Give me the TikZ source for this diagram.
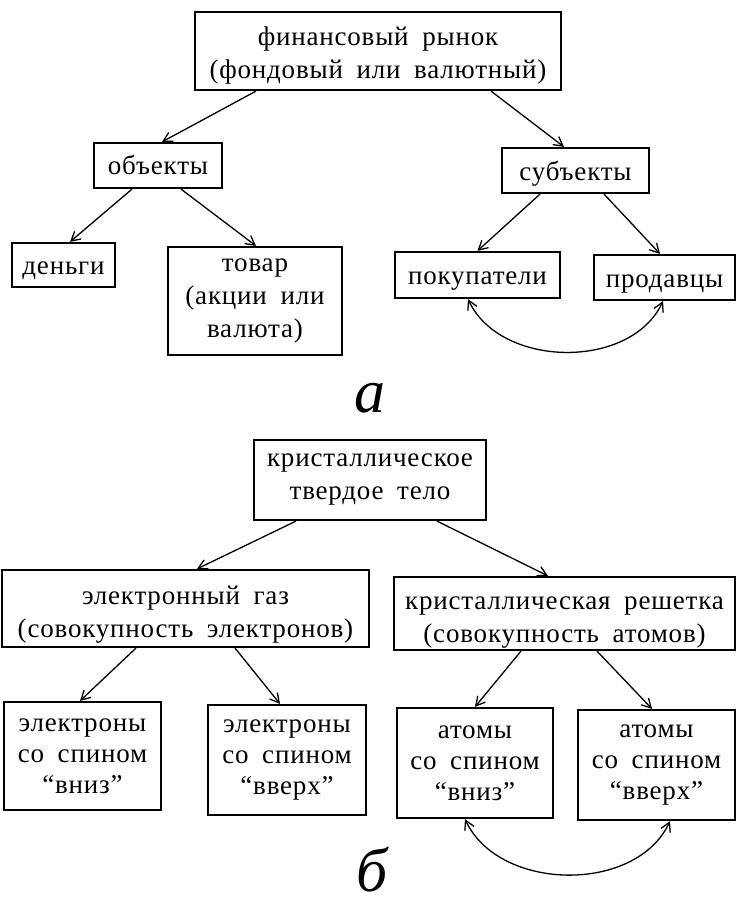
\documentclass[tikz,border=0pt]{standalone}
\usepackage{fontspec}
\setmainfont{Liberation Serif}[LetterSpace=3,WordSpace=1.8]
\usetikzlibrary{arrows.meta}
\begin{document}
\begin{tikzpicture}[x=1pt,y=-1pt,
  box/.style={draw,line width=2.2pt,rectangle,inner sep=0pt,align=center,
    font=\fontsize{27}{33}\selectfont},
  one/.style={text height=21pt,text depth=2pt},
  tri/.style={font=\fontsize{27}{31}\selectfont},
  arr/.style={line width=1.3pt,-{Straight Barb[length=9pt,width=10pt,line width=1.3pt]}},
  darr/.style={line width=1.3pt,{Straight Barb[length=9pt,width=10pt,line width=1.3pt]}-{Straight Barb[length=9pt,width=10pt,line width=1.3pt]}},
  lbl/.style={font=\fontsize{62}{64}\selectfont\itshape,inner sep=0pt}]
\useasboundingbox (0,0) rectangle (737,904);
% part a
\node[box,minimum width=366pt,minimum height=78pt] (fin) at (378,51) {\rule{0pt}{28pt}финансовый рынок\\(фондовый или валютный)};
\node[box,one,minimum width=128pt,minimum height=45pt] (obj) at (158,165.5) {объекты};
\node[box,one,minimum width=147pt,minimum height=45pt] (subj) at (575.5,170.5) {субъекты};
\node[box,one,minimum width=103pt,minimum height=44pt] (money) at (63.5,265) {деньги};
\node[box,minimum width=174pt,minimum height=108pt] (goods) at (255,301) {товар\\(акции или\\валюта)};
\node[box,one,minimum width=165pt,minimum height=46pt] (buyers) at (477.5,275) {покупатели};
\node[box,one,minimum width=141pt,minimum height=45pt] (sellers) at (664.5,277.5) {продавцы};
\draw[arr] ([xshift=-122pt]fin.south) -- ([xshift=4pt]obj.north);
\draw[arr] ([xshift=113pt]fin.south) -- ([xshift=-11.5pt]subj.north);
\draw[arr] ([xshift=-26pt]obj.south) -- ([xshift=6.5pt]money.north);
\draw[arr] ([xshift=23pt]obj.south) -- ([xshift=1pt]goods.north);
\draw[arr] ([xshift=-35.5pt]subj.south) -- (buyers.north);
\draw[arr] ([xshift=28.5pt]subj.south) -- ([xshift=-4.5pt]sellers.north);
\draw[darr] ([xshift=-9.5pt]buyers.south) to[out=-65,in=-115] ([xshift=-1.5pt]sellers.south);
\node[lbl] (la) at (370,398) {а};
% part b
\node[box,minimum width=232pt,minimum height=80pt] (cryst) at (370,480) {кристаллическое\\твердое тело};
\node[box,minimum width=367pt,minimum height=77pt] (gas) at (185.5,608.5) {\rule{0pt}{30pt}электронный газ\\(совокупность электронов)};
\node[box,minimum width=341pt,minimum height=73pt] (lattice) at (564.5,613.5) {\rule{0pt}{30pt}кристаллическая решетка\\(совокупность атомов)};
\node[box,tri,minimum width=157pt,minimum height=108pt] (edown) at (82.5,756) {электроны\\со спином\\“вниз”};
\node[box,tri,minimum width=158pt,minimum height=110pt] (eup) at (287,760) {электроны\\со спином\\“вверх”};
\node[box,tri,minimum width=156pt,minimum height=110pt] (adown) at (475,763) {атомы\\со спином\\“вниз”};
\node[box,tri,minimum width=157pt,minimum height=110pt] (aup) at (656.5,765) {атомы\\со спином\\“вверх”};
\draw[arr] ([xshift=-74pt]cryst.south) -- ([xshift=11.5pt]gas.north);
\draw[arr] ([xshift=67pt]cryst.south) -- ([xshift=-16.5pt]lattice.north);
\draw[arr] ([xshift=-49.5pt]gas.south) -- ([xshift=-2.5pt]edown.north);
\draw[arr] ([xshift=49.5pt]gas.south) -- ([xshift=-7pt]eup.north);
\draw[arr] ([xshift=-43.5pt]lattice.south) -- (adown.north);
\draw[arr] ([xshift=32.5pt]lattice.south) -- ([xshift=-4.5pt]aup.north);
\draw[darr] ([xshift=-10pt]adown.south) to[out=-65,in=-115] ([xshift=13.5pt]aup.south);
\node[lbl] (lb) at (372,870) {б};
\end{tikzpicture}
\end{document}
